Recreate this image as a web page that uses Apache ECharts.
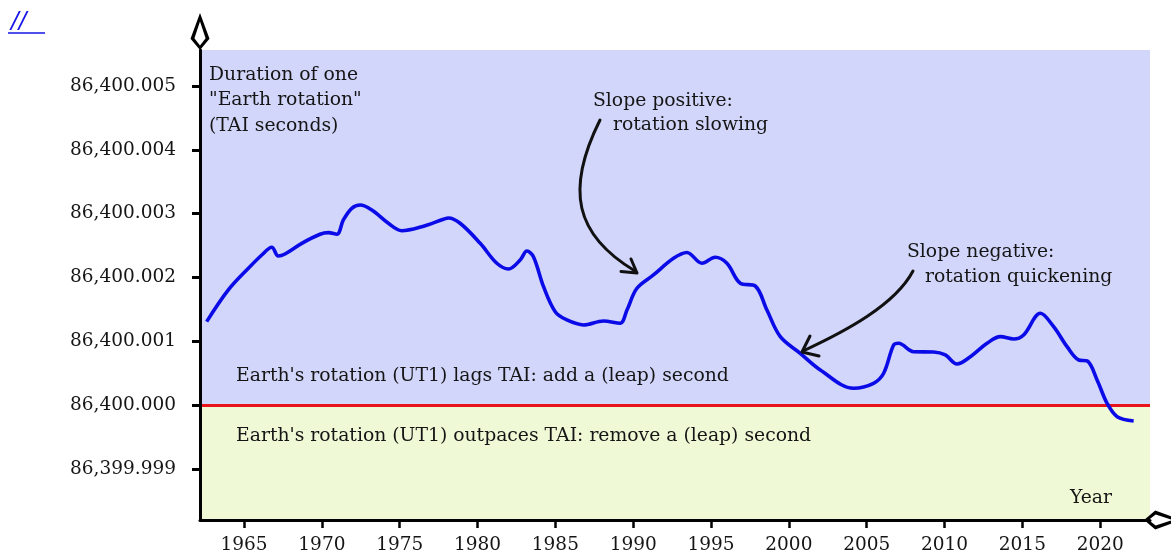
<!DOCTYPE html>
<html><head><meta charset="utf-8">
<script src="https://cdn.jsdelivr.net/npm/echarts@6/dist/echarts.min.js"></script>
<style>html,body{margin:0;padding:0;background:#fff}#c{width:1171px;height:560px}</style>
</head><body><div id="c"></div><script>
// Length of day, excess over 86,400 s, in milliseconds
const years = [1962.60,1963.99,1965.28,1966.14,1966.78,1967.20,1967.63,1968.71,1969.88,1970.42,1970.96,1971.38,1971.92,1972.46,1973.21,1974.27,1975.13,1976.42,1977.81,1978.13,1978.88,1980.17,1981.24,1981.99,1982.74,1983.17,1983.59,1984.24,1984.99,1985.74,1986.81,1988.09,1989.16,1989.60,1990.24,1991.30,1992.59,1993.45,1994.42,1995.27,1996.02,1996.88,1997.84,1998.59,1999.45,2000.73,2002.02,2004.16,2005.44,2006.09,2006.73,2007.05,2008.01,2009.30,2010.05,2010.80,2011.66,2012.73,2013.59,2014.44,2015.08,2016.16,2017.01,2017.87,2018.62,2019.16,2019.80,2020.44,2021.09,2022.15];
const lodExcessMs = [1.306,1.803,2.143,2.351,2.472,2.335,2.367,2.534,2.676,2.701,2.676,2.900,3.083,3.135,3.056,2.848,2.732,2.795,2.911,2.931,2.848,2.534,2.221,2.132,2.273,2.414,2.324,1.854,1.462,1.332,1.254,1.317,1.281,1.489,1.829,2.038,2.299,2.390,2.221,2.315,2.221,1.908,1.865,1.489,1.071,0.810,0.549,0.262,0.340,0.497,0.940,0.967,0.835,0.831,0.784,0.643,0.757,0.967,1.071,1.034,1.097,1.437,1.227,0.914,0.705,0.690,0.392,0.027,-0.183,-0.251];
const xTickYears = [1965,1970,1975,1980,1985,1990,1995,2000,2005,2010,2015,2020];
const yTickValues = [-1,0,1,2,3,4,5];
const yTickLabels = ['86,399.999','86,400.000','86,400.001','86,400.002','86,400.003','86,400.004','86,400.005'];
const xMin = 1962.17, xMax = 2023.2, yMin = -1.803, yMax = 5.564;

const FONT = '"DejaVu Serif", serif';
const txtFont = '18.8px ' + FONT;
const ink = '#151515';
const arrowPath = 'path://M0,0 L8.5,23 L0,33 L-8.5,23 Z M0,7.5 L-5,22.6 L0,29 L5,22.6 Z';

const chart = echarts.init(document.getElementById('c'), null, {renderer: 'canvas'});
function txt(s, x, y, align) {
  return {type: 'text', x: x, y: y, z: 50,
    style: {text: s, font: txtFont, fill: ink, textAlign: align || 'left', textVerticalAlign: 'middle'}};
}
const stroke = {stroke: '#111', lineWidth: 3, fill: null, lineCap: 'round', lineJoin: 'round'};
chart.setOption({
  animation: false,
  grid: {left: 200, right: 21, top: 50, bottom: 40, containLabel: false, outerBoundsMode: 'none'},
  xAxis: {
    type: 'value', min: xMin, max: xMax, z: 10,
    splitLine: {show: false},
    axisLine: {onZero: false, lineStyle: {color: '#000', width: 3}, symbol: ['none', arrowPath], symbolSize: [19, 37], symbolOffset: [0, 12.5]},
    axisTick: {show: true, length: 8, lineStyle: {color: '#000', width: 2.5}, customValues: xTickYears},
    axisLabel: {customValues: xTickYears, margin: 16, color: ink, fontFamily: FONT, fontSize: 18.5, formatter: v => String(Math.round(v))}
  },
  yAxis: {
    type: 'value', min: yMin, max: yMax, z: 10,
    splitLine: {show: false},
    axisLine: {onZero: false, lineStyle: {color: '#000', width: 3}, symbol: ['none', arrowPath], symbolSize: [19, 37], symbolOffset: [0, 18.5]},
    axisTick: {show: true, length: 8, lineStyle: {color: '#000', width: 3}, customValues: yTickValues},
    axisLabel: {customValues: yTickValues, margin: 24, color: ink, fontFamily: FONT, fontSize: 18.5,
      formatter: v => { const i = yTickValues.findIndex(t => Math.abs(t - v) < 1e-6); return i >= 0 ? yTickLabels[i] : ''; }}
  },
  series: [{
    type: 'line', symbol: 'none', smooth: 0.35, z: 5,
    data: years.map((y, i) => [y, lodExcessMs[i]]),
    lineStyle: {color: '#0b0be8', width: 3.6},
    markArea: {silent: true, data: [
      [{xAxis: xMin, yAxis: 0, itemStyle: {color: '#d2d6fa'}}, {xAxis: xMax, yAxis: yMax}],
      [{xAxis: xMin, yAxis: yMin, itemStyle: {color: '#eff9d6'}}, {xAxis: xMax, yAxis: 0}]
    ]},
    markLine: {silent: true, symbol: 'none', label: {show: false},
      lineStyle: {color: '#e8141a', width: 3, type: 'solid'}, data: [{yAxis: 0}]}
  }],
  graphic: [
    txt('Duration of one', 209, 75),
    txt('"Earth rotation"', 209, 100),
    txt('(TAI seconds)', 209, 126),
    txt('Slope positive:', 593, 101),
    txt('rotation slowing', 613, 125),
    txt('Slope negative:', 907, 252),
    txt('rotation quickening', 925, 277),
    txt("Earth's rotation (UT1) lags TAI: add a (leap) second", 236, 376),
    txt("Earth's rotation (UT1) outpaces TAI: remove a (leap) second", 236, 436),
    txt('Year', 1112, 498, 'right'),
    {type: 'text', x: 11, y: 22, z: 50, style: {text: '//', font: 'italic 23px "DejaVu Sans", sans-serif', fill: '#1515e6', textAlign: 'left', textVerticalAlign: 'middle'}},
    {type: 'line', z: 50, shape: {x1: 8, y1: 33, x2: 45, y2: 33}, style: {stroke: '#1515e6', lineWidth: 1.6}},
    {type: 'bezierCurve', z: 50, shape: {x1: 600, y1: 120, cpx1: 565, cpy1: 190, cpx2: 575, cpy2: 235, x2: 635, y2: 271}, style: stroke},
    {type: 'polyline', z: 50, shape: {points: [[621, 271.5], [637, 273], [631, 259]]}, style: stroke},
    {type: 'bezierCurve', z: 50, shape: {x1: 913, y1: 271, cpx1: 895, cpy1: 305, cpx2: 846, cpy2: 331, x2: 803, y2: 351}, style: stroke},
    {type: 'polyline', z: 50, shape: {points: [[810, 336], [802, 352], [819, 356]]}, style: stroke}
  ]
});
</script></body></html>
